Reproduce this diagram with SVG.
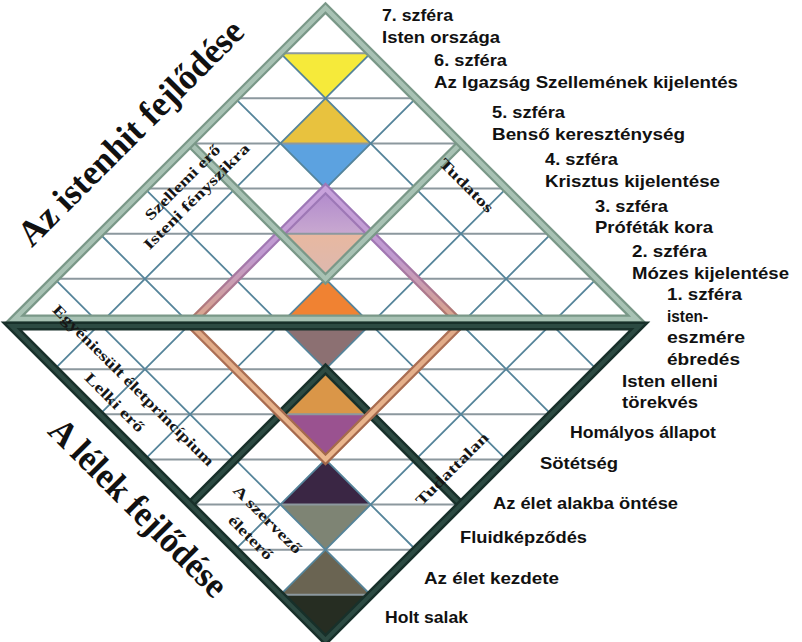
<svg xmlns="http://www.w3.org/2000/svg" width="802" height="642" viewBox="0 0 802 642">
<defs>
<linearGradient id="pdark" gradientUnits="userSpaceOnUse" x1="0" y1="188" x2="0" y2="460">
<stop offset="0" stop-color="#9C78B8"/>
<stop offset="0.25" stop-color="#A278B2"/>
<stop offset="0.42" stop-color="#B07A84"/>
<stop offset="0.5" stop-color="#AE7258"/>
<stop offset="1" stop-color="#A4684A"/>
</linearGradient>
<linearGradient id="plight" gradientUnits="userSpaceOnUse" x1="0" y1="188" x2="0" y2="460">
<stop offset="0" stop-color="#C8A2DC"/>
<stop offset="0.25" stop-color="#C09AD0"/>
<stop offset="0.42" stop-color="#D2A09C"/>
<stop offset="0.5" stop-color="#E0AA88"/>
<stop offset="1" stop-color="#ECB88E"/>
</linearGradient>
<linearGradient id="lilac" x1="0" y1="0" x2="0" y2="1">
<stop offset="0" stop-color="#B088CC"/>
<stop offset="1" stop-color="#C8A8D0"/>
</linearGradient>
<linearGradient id="peach" x1="0" y1="0" x2="0" y2="1">
<stop offset="0" stop-color="#E8B8A0"/>
<stop offset="1" stop-color="#DCB8B0"/>
</linearGradient>
</defs>
<style>
.hl{stroke:#8C989E;stroke-width:2;fill:none}
.dg{stroke:#55849A;stroke-width:1.8;fill:none}
.gf1{stroke:#7A9888;stroke-width:9;fill:none}
.gf2{stroke:#A8C2B4;stroke-width:4.5;fill:none}
.df1{stroke:#18302A;stroke-width:9;fill:none}
.df2{stroke:#2C4A42;stroke-width:4;fill:none}
.pf1{stroke:url(#pdark);stroke-width:9;fill:none}
.pf2{stroke:url(#plight);stroke-width:4.5;fill:none}
.big{font-family:"Liberation Serif","Times New Roman",serif;font-weight:bold;font-size:36px;fill:#111}
.sm{font-family:"Liberation Serif","Times New Roman",serif;font-weight:bold;font-size:15px;fill:#161616}
.rt{font-family:"Liberation Sans",Arial,sans-serif;font-weight:bold;font-size:17px;fill:#111}
</style>
<rect width="802" height="642" fill="#ffffff"/>

<g id="bands">
<polygon points="280.36,53.14 370.64,53.14 325.5,98.29" fill="#F6EA3A"/>
<polygon points="325.5,98.29 280.36,143.43 370.64,143.43" fill="#E8C23E"/>
<polygon points="280.36,143.43 370.64,143.43 325.5,188.57" fill="#5CA2E0"/>
<polygon points="325.5,188.57 280.36,233.71 370.64,233.71" fill="url(#lilac)"/>
<polygon points="280.36,233.71 370.64,233.71 325.5,278.86" fill="url(#peach)"/>
<polygon points="325.5,278.86 280.36,324 370.64,324" fill="#F08232"/>
<polygon points="280.36,324 370.64,324 325.5,369.14" fill="#8C7072"/>
<polygon points="325.5,369.14 280.36,414.29 370.64,414.29" fill="#DA9648"/>
<polygon points="280.36,414.29 370.64,414.29 325.5,459.43" fill="#9A5290"/>
<polygon points="325.5,459.43 280.36,504.57 370.64,504.57" fill="#3A2644"/>
<polygon points="280.36,504.57 370.64,504.57 325.5,549.71" fill="#7E8474"/>
<polygon points="325.5,549.71 280.36,594.86 370.64,594.86" fill="#6A6452"/>
<polygon points="280.36,594.86 370.64,594.86 325.5,640" fill="#262D22"/>
</g>

<g id="grid">
<path class="hl" d="M280.36,53.14H370.64M235.2,98.29H415.8M190.07,143.43H460.93M144.93,188.57H506.07M99.79,233.71H551.21M54.64,278.86H596.36M54.64,369.14H596.36M99.79,414.29H551.21M144.93,459.43H506.07M190.07,504.57H460.93M235.2,549.71H415.8M280.36,594.86H370.64"/>
<path class="dg" d="M280.35,53.15L596.35,369.15M235.2,98.3L551.2,414.3M190.05,143.45L506.05,459.45M144.9,188.6L460.9,504.6M99.75,233.75L415.75,549.75M54.65,278.85L370.65,594.85"/>
<path class="dg" d="M370.65,53.15L54.65,369.15M415.8,98.3L99.8,414.3M460.95,143.45L144.95,459.45M506.1,188.6L190.1,504.6M551.2,233.7L235.2,549.7M596.35,278.85L280.35,594.85"/>
</g>

<g id="frames">
<g id="frame-dark-inner">
<path class="df1" d="M190.07,504.57L325.5,369.14L460.93,504.57"/>
<path class="df2" d="M190.07,504.57L325.5,369.14L460.93,504.57"/>
</g>
<g id="frame-purple">
<path class="pf1" d="M325.5,188.57L460.93,324L325.5,459.43L190.07,324Z"/>
<path class="pf2" d="M325.5,188.57L460.93,324L325.5,459.43L190.07,324Z"/>
</g>
<g id="frame-green-inner">
<path class="gf1" d="M190.07,143.43L325.5,278.86L460.93,143.43"/>
<path class="gf2" d="M190.07,143.43L325.5,278.86L460.93,143.43"/>
</g>
<g id="frame-top">
<path class="gf1" d="M14.5,319L325.5,8L636.5,319Z"/>
<path class="gf2" d="M14.5,319L325.5,8L636.5,319Z"/>
</g>
<g id="frame-bottom">
<path class="df1" d="M11.5,326L325.5,640L639.5,326Z"/>
<path class="df2" d="M11.5,326L325.5,640L639.5,326Z"/>
</g>
</g>

<g id="left-labels">
<text id="t-istenhit" class="big" text-anchor="middle" transform="translate(139,141) rotate(-45)" textLength="303" lengthAdjust="spacingAndGlyphs">Az istenhit fejlődése</text>
<text id="t-lelek" class="big" text-anchor="middle" transform="translate(130,516) rotate(45)" textLength="236" lengthAdjust="spacingAndGlyphs">A lélek fejlődése</text>
<text id="t-szellemi" class="sm" text-anchor="middle" transform="translate(186,186) rotate(-45)" textLength="100" lengthAdjust="spacingAndGlyphs">Szellemi erő</text>
<text id="t-isteni" class="sm" text-anchor="middle" transform="translate(200,200) rotate(-45)" textLength="143" lengthAdjust="spacingAndGlyphs">Isteni fényszikra</text>
<text id="t-tudatos" class="sm" text-anchor="middle" transform="translate(463,189) rotate(45)" textLength="70" lengthAdjust="spacingAndGlyphs">Tudatos</text>
<text id="t-egyeni" class="sm" text-anchor="middle" transform="translate(130,389) rotate(45)" textLength="221" lengthAdjust="spacingAndGlyphs">Egyéniesült életprincípium</text>
<text id="t-lelki" class="sm" text-anchor="middle" transform="translate(111,406) rotate(45)" textLength="77" lengthAdjust="spacingAndGlyphs">Lelki erő</text>
<text id="t-szervezo" class="sm" text-anchor="middle" transform="translate(264,523) rotate(45)" textLength="90" lengthAdjust="spacingAndGlyphs">A szervező</text>
<text id="t-eletero" class="sm" text-anchor="middle" transform="translate(247,541) rotate(45)" textLength="56" lengthAdjust="spacingAndGlyphs">életerő</text>
<text id="t-tudattalan" class="sm" text-anchor="middle" transform="translate(455.5,472.5) rotate(-45)" textLength="96" lengthAdjust="spacingAndGlyphs">Tudattalan</text>
</g>

<g id="right-labels">
<g id="s7"><text class="rt" x="382" y="21" textLength="71" lengthAdjust="spacingAndGlyphs">7. szféra</text><text class="rt" x="382" y="43" textLength="118" lengthAdjust="spacingAndGlyphs">Isten országa</text></g>
<g id="s6"><text class="rt" x="434" y="66" textLength="73" lengthAdjust="spacingAndGlyphs">6. szféra</text><text class="rt" x="434" y="88" textLength="304" lengthAdjust="spacingAndGlyphs">Az Igazság Szellemének kijelentés</text></g>
<g id="s5"><text class="rt" x="492" y="118" textLength="73" lengthAdjust="spacingAndGlyphs">5. szféra</text><text class="rt" x="492" y="140" textLength="193" lengthAdjust="spacingAndGlyphs">Benső kereszténység</text></g>
<g id="s4"><text class="rt" x="545" y="165" textLength="73" lengthAdjust="spacingAndGlyphs">4. szféra</text><text class="rt" x="545" y="187" textLength="175" lengthAdjust="spacingAndGlyphs">Krisztus kijelentése</text></g>
<g id="s3"><text class="rt" x="595" y="212" textLength="73" lengthAdjust="spacingAndGlyphs">3. szféra</text><text class="rt" x="595" y="233" textLength="118" lengthAdjust="spacingAndGlyphs">Próféták kora</text></g>
<g id="s2"><text class="rt" x="632" y="257" textLength="75" lengthAdjust="spacingAndGlyphs">2. szféra</text><text class="rt" x="632" y="279" textLength="157" lengthAdjust="spacingAndGlyphs">Mózes kijelentése</text></g>
<g id="s1"><text class="rt" x="667" y="300" textLength="75" lengthAdjust="spacingAndGlyphs">1. szféra</text><text class="rt" x="667" y="322" textLength="41" lengthAdjust="spacingAndGlyphs">isten-</text><text class="rt" x="667" y="343" textLength="78" lengthAdjust="spacingAndGlyphs">eszmére</text><text class="rt" x="667" y="365" textLength="73" lengthAdjust="spacingAndGlyphs">ébredés</text></g>
<g id="l-ellen"><text class="rt" x="622" y="387" textLength="96" lengthAdjust="spacingAndGlyphs">Isten elleni</text><text class="rt" x="622" y="408" textLength="76" lengthAdjust="spacingAndGlyphs">törekvés</text></g>
<g id="l-homaly"><text class="rt" x="570" y="438" textLength="146" lengthAdjust="spacingAndGlyphs">Homályos állapot</text></g>
<g id="l-sotet"><text class="rt" x="540" y="469" textLength="78" lengthAdjust="spacingAndGlyphs">Sötétség</text></g>
<g id="l-alakba"><text class="rt" x="493" y="509" textLength="185" lengthAdjust="spacingAndGlyphs">Az élet alakba öntése</text></g>
<g id="l-fluid"><text class="rt" x="460" y="543" textLength="127" lengthAdjust="spacingAndGlyphs">Fluidképződés</text></g>
<g id="l-kezdet"><text class="rt" x="424" y="584" textLength="135" lengthAdjust="spacingAndGlyphs">Az élet kezdete</text></g>
<g id="l-salak"><text class="rt" x="385" y="623" textLength="83" lengthAdjust="spacingAndGlyphs">Holt salak</text></g>
</g>
</svg>
